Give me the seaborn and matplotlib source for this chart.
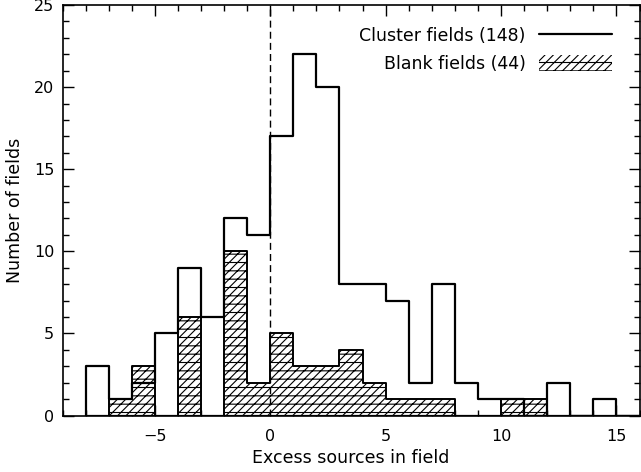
import numpy as np
import pandas as pd
import matplotlib
matplotlib.use('Agg')
import matplotlib.pyplot as plt
import seaborn as sns
from matplotlib.lines import Line2D
from matplotlib.patches import Patch

# dados: contagens por bin de largura 1, de -8 a 16
bin_left = list(range(-8, 16))
cluster_counts = [3, 1, 2, 5, 9, 6, 12, 11, 17, 22, 20, 8, 8, 7, 2, 8, 2, 1, 1, 0, 2, 0, 1, 0]
blank_counts = [0, 1, 3, 0, 6, 0, 10, 2, 5, 3, 3, 4, 2, 1, 1, 1, 0, 0, 1, 1, 0, 0, 0, 0]
cluster_label = 'Cluster fields (148)'
blank_label = 'Blank fields (44)'

df = pd.DataFrame({'x': np.array(bin_left) + 0.5,
                   'cluster': cluster_counts,
                   'blank': blank_counts})

sns.set_style('ticks')
plt.rcParams['font.family'] = ['DejaVu Sans']
plt.rcParams['hatch.linewidth'] = 0.8
plt.rcParams['text.color'] = 'black'
plt.rcParams['axes.labelcolor'] = 'black'

fig = plt.figure(figsize=(6.41, 4.72), dpi=100)
ax = fig.add_axes([62.5 / 641, 1 - 415.5 / 472, (639.5 - 62.5) / 641, (415.5 - 5) / 472])

# histograma dos campos em branco (tracejado)
sns.histplot(data=df, x='x', weights='blank', binwidth=1, binrange=(-8, 16),
             element='step', fill=True, color='black', hatch='////--', linewidth=1.4, ax=ax)
blank_art = ax.collections[-1]
blank_art.set_alpha(None)
blank_art.set_facecolor('white')
blank_art.set_edgecolor('black')

# histograma dos campos de aglomerados (contorno)
sns.histplot(data=df, x='x', weights='cluster', binwidth=1, binrange=(-8, 16),
             element='step', fill=True, color='black', linewidth=1.6, ax=ax)
cluster_art = ax.collections[-1]
cluster_art.set_alpha(None)
cluster_art.set_facecolor('none')
cluster_art.set_edgecolor('black')

ax.axvline(0, color='black', linestyle=(0, (5, 3)), linewidth=1.0)

ax.set_xlim(-9, 16)
ax.set_ylim(0, 25)
ax.set_xticks([-5, 0, 5, 10, 15])
ax.set_xticks(np.arange(-9, 17), minor=True)
ax.set_yticks([0, 5, 10, 15, 20, 25])
ax.set_yticks(np.arange(0, 26), minor=True)
ax.set_xticklabels(['\u22125', '0', '5', '10', '15'])
ax.tick_params(which='both', direction='in', top=True, right=True, width=1,
               colors='black', labelcolor='black', labelsize=11.5)
ax.tick_params(which='major', length=8)
ax.tick_params(which='minor', length=4)
ax.tick_params(axis='x', which='major', pad=10)
ax.tick_params(axis='y', which='major', pad=6)
for s in ax.spines.values():
    s.set_linewidth(1.2)
    s.set_color('black')

ax.set_xlabel('Excess sources in field', fontsize=12.5, labelpad=3)
ax.set_ylabel('Number of fields', fontsize=12.5, labelpad=7)

handles = [Line2D([0], [0], color='black', linewidth=1.6),
           Patch(facecolor='white', edgecolor='black', hatch='////--', linewidth=0)]
leg = ax.legend(handles, [cluster_label, blank_label], loc='upper right',
                bbox_to_anchor=(0.98, 0.985), frameon=False, markerfirst=False,
                fontsize=12.5, handlelength=4.2, handleheight=1.1,
                handletextpad=0.8, labelspacing=0.55)

plt.savefig('out.png', dpi=100)
